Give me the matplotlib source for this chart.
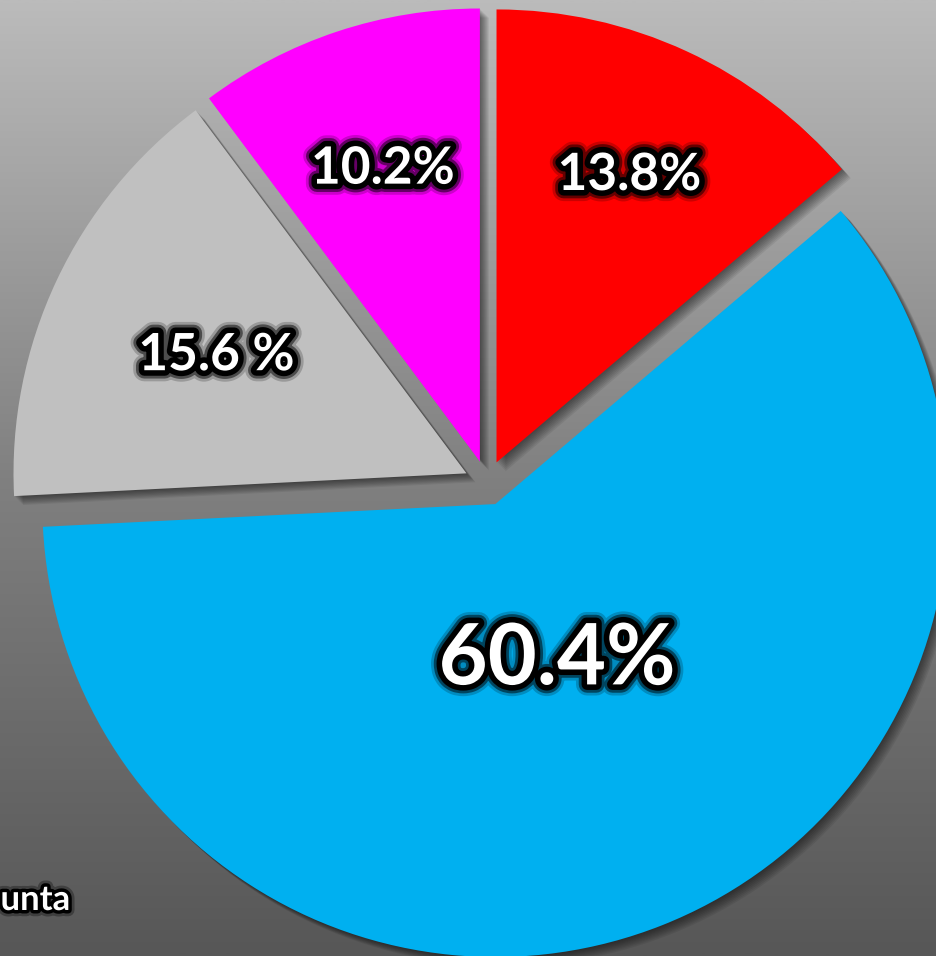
import numpy as np
import matplotlib.pyplot as plt
import matplotlib.patheffects as pe
from matplotlib.colors import LinearSegmentedColormap

# slice data, clockwise from 12 o'clock
values = [13.8, 60.4, 15.6, 10.2]
labels = ['13.8%', '60.4%', '15.6 %', '10.2%']
colors = ['#ff0000', '#00b0f0', '#c0c0c0', '#ff00ff']
explode = [0.05, 0.05, 0.05, 0.05]

# label placement (distance from pie centre, font size)
label_dist = [0.748, 0.42, 0.66, 0.73]
label_size = [37, 61, 37, 37]

W, H = 936, 956
R = 453.0           # pie radius in pixels
cx, cy = 487, 483   # pie centre in pixels (from top-left)

fig = plt.figure(figsize=(W / 100, H / 100), dpi=100)

# grey gradient background
bg = fig.add_axes([0, 0, 1, 1])
grad = np.linspace(0, 1, 512).reshape(-1, 1)
cmap = LinearSegmentedColormap.from_list(
    'bg', [(0, '#bbbbbb'), (0.5, '#808080'), (1, '#575757')])
bg.imshow(grad, aspect='auto', cmap=cmap, extent=[0, 1, 0, 1])
bg.axis('off')

ax = fig.add_axes([0, 0, 1, 1])
ax.patch.set_alpha(0)

shadow = [pe.SimplePatchShadow(offset=(k * 0.8, -k * 0.8),
                               shadow_rgbFace='black', alpha=0.07)
          for k in range(1, 9)] + [pe.Normal()]

wedges, _ = ax.pie(values, colors=colors, explode=explode, startangle=90,
                   counterclock=False, radius=1,
                   wedgeprops=dict(linewidth=0, path_effects=shadow))

glow = [pe.Stroke(linewidth=16, foreground='black', alpha=0.2),
        pe.Stroke(linewidth=12, foreground='black', alpha=0.5),
        pe.Stroke(linewidth=8, foreground='black'),
        pe.Normal()]

for w, lab, d, fs in zip(wedges, labels, label_dist, label_size):
    th = np.deg2rad((w.theta1 + w.theta2) / 2)
    ax.text(d * np.cos(th), d * np.sin(th), lab, ha='center', va='center',
            fontsize=fs, fontweight='bold', family='Lato', color='white',
            path_effects=glow)

ax.set_aspect('auto')
ax.set_xlim(-cx / R, (W - cx) / R)
ax.set_ylim(-(H - cy) / R, cy / R)
ax.axis('off')

# text at bottom left edge
fig.text(0.5 / W, 1 - 910 / H, 'unta', ha='left', va='baseline', fontsize=25,
         fontweight='bold', family='Lato', color='white',
         path_effects=[pe.Stroke(linewidth=9, foreground='black', alpha=0.3),
                       pe.Stroke(linewidth=5, foreground='black'),
                       pe.Normal()])

fig.savefig('out.png', dpi=100)
